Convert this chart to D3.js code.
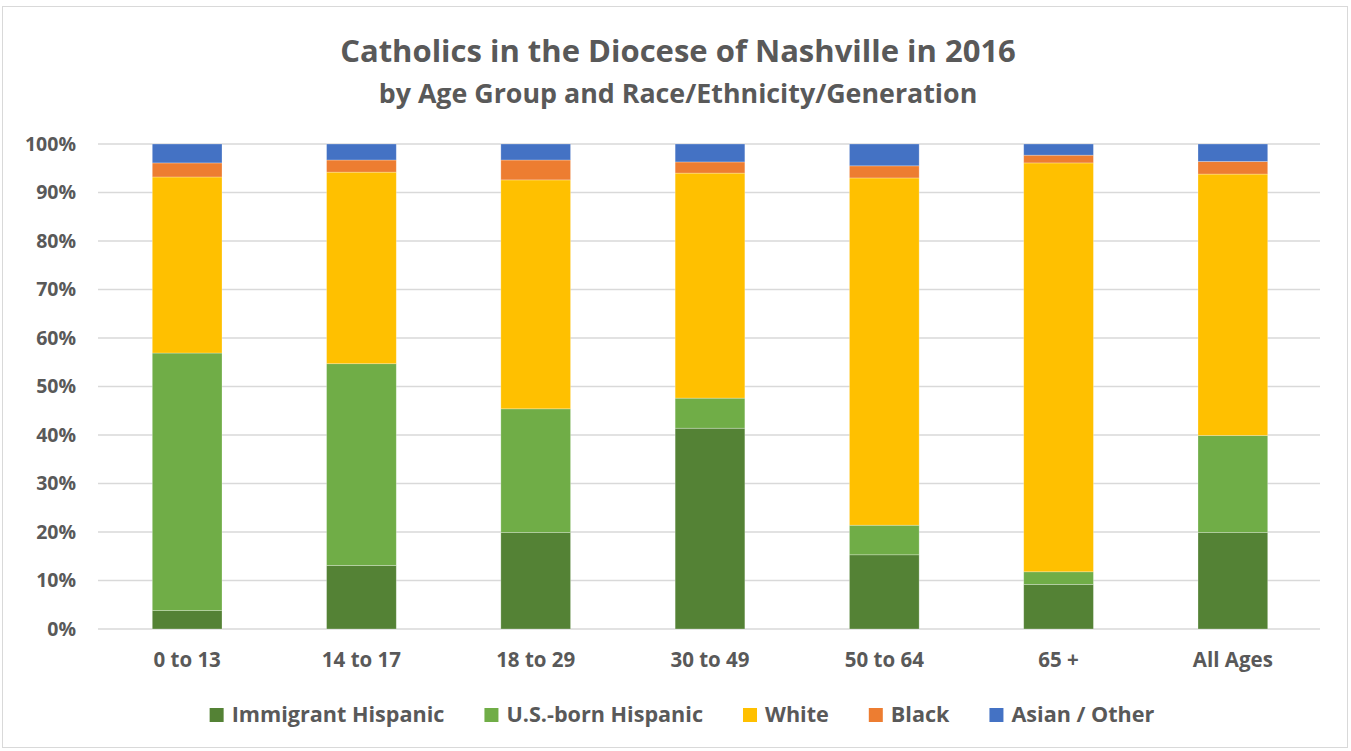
<!DOCTYPE html>
<html><head><meta charset="utf-8">
<script src="https://cdn.jsdelivr.net/npm/d3@7"></script>
<style>html,body{margin:0;padding:0;background:#fff;}svg{display:block;}</style>
</head><body>
<svg id="chart" width="1351" height="751"></svg>
<script>
const categories = ["0 to 13","14 to 17","18 to 29","30 to 49","50 to 64","65 +","All Ages"];
const seriesNames = ["Immigrant Hispanic","U.S.-born Hispanic","White","Black","Asian / Other"];
const immigrantHispanic = [3.8, 13.1, 19.9, 41.4, 15.3, 9.2, 19.9];
const usBornHispanic    = [53.1, 41.6, 25.5, 6.2, 6.1, 2.6, 20.0];
const white             = [36.3, 39.5, 47.2, 46.4, 71.6, 84.3, 53.9];
const black             = [2.9, 2.5, 4.1, 2.3, 2.5, 1.6, 2.6];
const asianOther        = [3.9, 3.3, 3.3, 3.7, 4.5, 2.3, 3.6];
const yTicks = [0,10,20,30,40,50,60,70,80,90,100];
const colors = ["#548235","#70ad47","#ffc000","#ed7d31","#4472c4"];

(function(){
const seriesVals = [immigrantHispanic, usBornHispanic, white, black, asianOther];
const rows = categories.map((c,i)=>{const r={cat:c}; seriesNames.forEach((s,j)=>r[s]=seriesVals[j][i]); return r;});
const stacked = d3.stack().keys(seriesNames)(rows);

const svg = d3.select("#chart");
const font = "'Open Sans', Lato, sans-serif";
const textColor = "#595959";

svg.append("rect").attr("x",2.5).attr("y",6.5).attr("width",1345).attr("height",741)
  .attr("fill","#fff").attr("stroke","#d9d9d9").attr("stroke-width",1);

const pL = 100, pR = 1320, pT = 144, pB = 629;
const x = d3.scaleBand().domain(categories).range([pL,pR]).paddingInner(0.6).paddingOuter(0.3);
const y = d3.scaleLinear().domain([0,100]).range([pB,pT]);

svg.append("g").selectAll("line").data(yTicks).join("line")
  .attr("x1",pL-2).attr("x2",pR).attr("y1",d=>y(d)).attr("y2",d=>y(d))
  .attr("stroke","#d9d9d9").attr("stroke-width",1.5);

svg.append("g").selectAll("g").data(stacked).join("g")
  .attr("fill",(d,i)=>colors[i])
  .selectAll("rect").data(d=>d).join("rect")
  .attr("x",d=>x(d.data.cat)).attr("width",x.bandwidth())
  .attr("y",d=>y(d[1])).attr("height",d=>y(d[0])-y(d[1]))
  .attr("stroke","#ffffff").attr("stroke-opacity",0.35).attr("stroke-width",0.75);

const yAxis = d3.axisLeft(y).tickValues(yTicks).tickFormat(d=>d+"%").tickSize(0).tickPadding(24);
const ya = svg.append("g").attr("transform",`translate(${pL},0)`).call(yAxis);
ya.select(".domain").remove();
ya.selectAll("text").attr("font-family",font).attr("font-size",19.5).attr("font-weight","bold").attr("fill",textColor);

const xAxis = d3.axisBottom(x).tickSize(0).tickPadding(38);
const xa = svg.append("g").attr("transform",`translate(0,${pB})`).call(xAxis);
xa.select(".domain").remove();
xa.selectAll("text").attr("font-family",font).attr("font-size",20.5).attr("font-weight","bold").attr("fill",textColor)
  .attr("dy",0);

svg.append("text").attr("x",678).attr("y",62).attr("text-anchor","middle")
  .attr("font-family",font).attr("font-size",31).attr("font-weight","bold").attr("fill",textColor)
  .text("Catholics in the Diocese of Nashville in 2016");
svg.append("text").attr("x",678).attr("y",103).attr("text-anchor","middle")
  .attr("font-family",font).attr("font-size",26.8).attr("font-weight","bold").attr("fill",textColor)
  .text("by Age Group and Race/Ethnicity/Generation");

// legend laid out by measured text widths
const lg = svg.append("g");
const items = lg.selectAll("g").data(seriesNames).join("g");
items.append("rect").attr("y",708).attr("width",14).attr("height",14).attr("fill",(d,i)=>colors[i]);
items.append("text").attr("x",22).attr("y",722).attr("font-family",font).attr("font-size",21.6)
  .attr("font-weight","bold").attr("fill",textColor).text(d=>d);
const widths = [];
items.each(function(){ widths.push(d3.select(this).select("text").node().getComputedTextLength()); });
const gap = 40;
const total = widths.reduce((a,w)=>a+22+w,0) + gap*(widths.length-1);
let start = 682 - total/2;
items.attr("transform",(d,i)=>{const t=`translate(${start},0)`; start += 22+widths[i]+gap; return t;});
})();
</script>
</body></html>
